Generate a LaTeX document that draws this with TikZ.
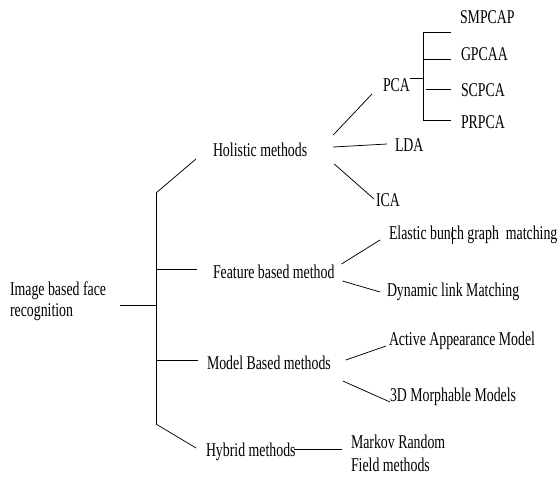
\documentclass[tikz,border=0pt]{standalone}
\usepackage{fontspec}
\setmainfont[FakeStretch=0.71]{Liberation Serif}
\usetikzlibrary{calc}
\begin{document}
\begin{tikzpicture}[x=1pt,y=-1pt,
  lbl/.style={anchor=base west,inner sep=0pt,outer sep=0pt,font=\fontsize{19.5}{21}\selectfont},
  twoline/.style={lbl,align=left},
  link/.style={draw=black,line width=0.75pt}]
\useasboundingbox (0,0) rectangle (558,477);

% labels (two-line labels sit on the baseline of their last line)
\node[twoline] (root) at (10,316) {Image based face\\recognition};
\node[lbl] (hol)   at (213,156) {Holistic methods};
\node[lbl] (feat)  at (213,278) {Feature based method};
\node[lbl] (model) at (207,369) {Model Based methods};
\node[lbl] (hyb)   at (206,456) {Hybrid methods};
\node[lbl] (pca)   at (383,91)  {PCA};
\node[lbl] (lda)   at (395,151) {LDA};
\node[lbl] (ica)   at (376,206) {ICA};
\node[lbl] (smpcap) at (460,23)  {SMPCAP};
\node[lbl] (gpcaa)  at (461,60)  {GPCAA};
\node[lbl] (scpca)  at (461,96)  {SCPCA};
\node[lbl] (prpca)  at (461,128) {PRPCA};
\node[lbl] (ebgm) at (389,239) {Elastic bunch graph~~matching};
\node[lbl] (dlm)  at (387,296) {Dynamic link Matching};
\node[lbl] (aam)  at (389,345) {Active Appearance Model};
\node[lbl] (mm3d) at (390,401) {3D Morphable Models};
\node[twoline,font=\fontsize{19.5}{23}\selectfont] (mrf) at (351,471) {Markov Random\\Field methods};

% junction points
\coordinate (trunkTop) at (156,193);
\coordinate (trunkMid) at (156,305);
\coordinate (trunkBot) at (156,424);
\coordinate (pcaJ)   at (423,78);
\coordinate (pcaTop) at (423,32);
\coordinate (pcaBot) at (423,120);
\coordinate (gpcaaTick) at (423,59);
\coordinate (scpcaTick) at (426,89);

% main trunk
\path (root.east) ++(14,0) coordinate (rootOut);
\draw[link] (trunkTop) -- (trunkBot);
\draw[link] (rootOut |- trunkMid) -- (trunkMid);
\draw[link] (trunkTop) -- ($(hol.base west)+(-17,3)$);
\coordinate (featIn)  at ($(feat.base west)+(-16,-9)$);
\coordinate (modelIn) at ($(model.base west)+(-9,-9)$);
\draw[link] (featIn -| trunkTop) -- (featIn);
\draw[link] (modelIn -| trunkTop) -- (modelIn);
\draw[link] (trunkBot) -- ($(hyb.base west)+(-10,-8)$);

% holistic methods
\draw[link] ($(hol.base east)+(26,-21)$) -- ($(pca.base west)+(-11,3)$);
\draw[link] ($(hol.base east)+(26,-9)$)  -- ($(lda.base west)+(-8,-7)$);
\draw[link] ($(hol.base east)+(27,8)$)   -- ($(ica.base west)+(-2,-7)$);

% PCA variants
\draw[link] (pca.east |- pcaJ) -- (pcaJ);
\draw[link] (pcaTop) -- (pcaBot);
\draw[link,shorten >=9pt]  (pcaTop) -- (pcaTop -| smpcap.west);
\draw[link,shorten >=10pt] (gpcaaTick) -- (gpcaaTick -| gpcaa.west);
\draw[link,shorten >=10pt] (scpcaTick) -- (scpcaTick -| scpca.west);
\draw[link,shorten >=10pt] (pcaBot) -- (pcaBot -| prpca.west);

% feature based
\draw[link] ($(feat.base east)+(7,-14)$) -- ($(ebgm.base west)+(-9,1)$);
\draw[link] ($(feat.base east)+(8,3)$)   -- ($(dlm.base west)+(-7,-4)$);
\draw[line width=0.7pt] ($(ebgm.base west)+(63,-12)$) -- ++(0,17);

% model based
\draw[link] ($(model.base east)+(15,-9)$) -- ($(aam.base west)+(-3,1)$);
\draw[link] ($(model.base east)+(12,12)$) -- ($(mm3d.base west)+(0,1)$);

% hybrid
\coordinate (hybOut) at ($(hyb.base east)+(-2,-7)$);
\draw[link,shorten >=9pt] (hybOut) -- (hybOut -| mrf.west);
\end{tikzpicture}
\end{document}
